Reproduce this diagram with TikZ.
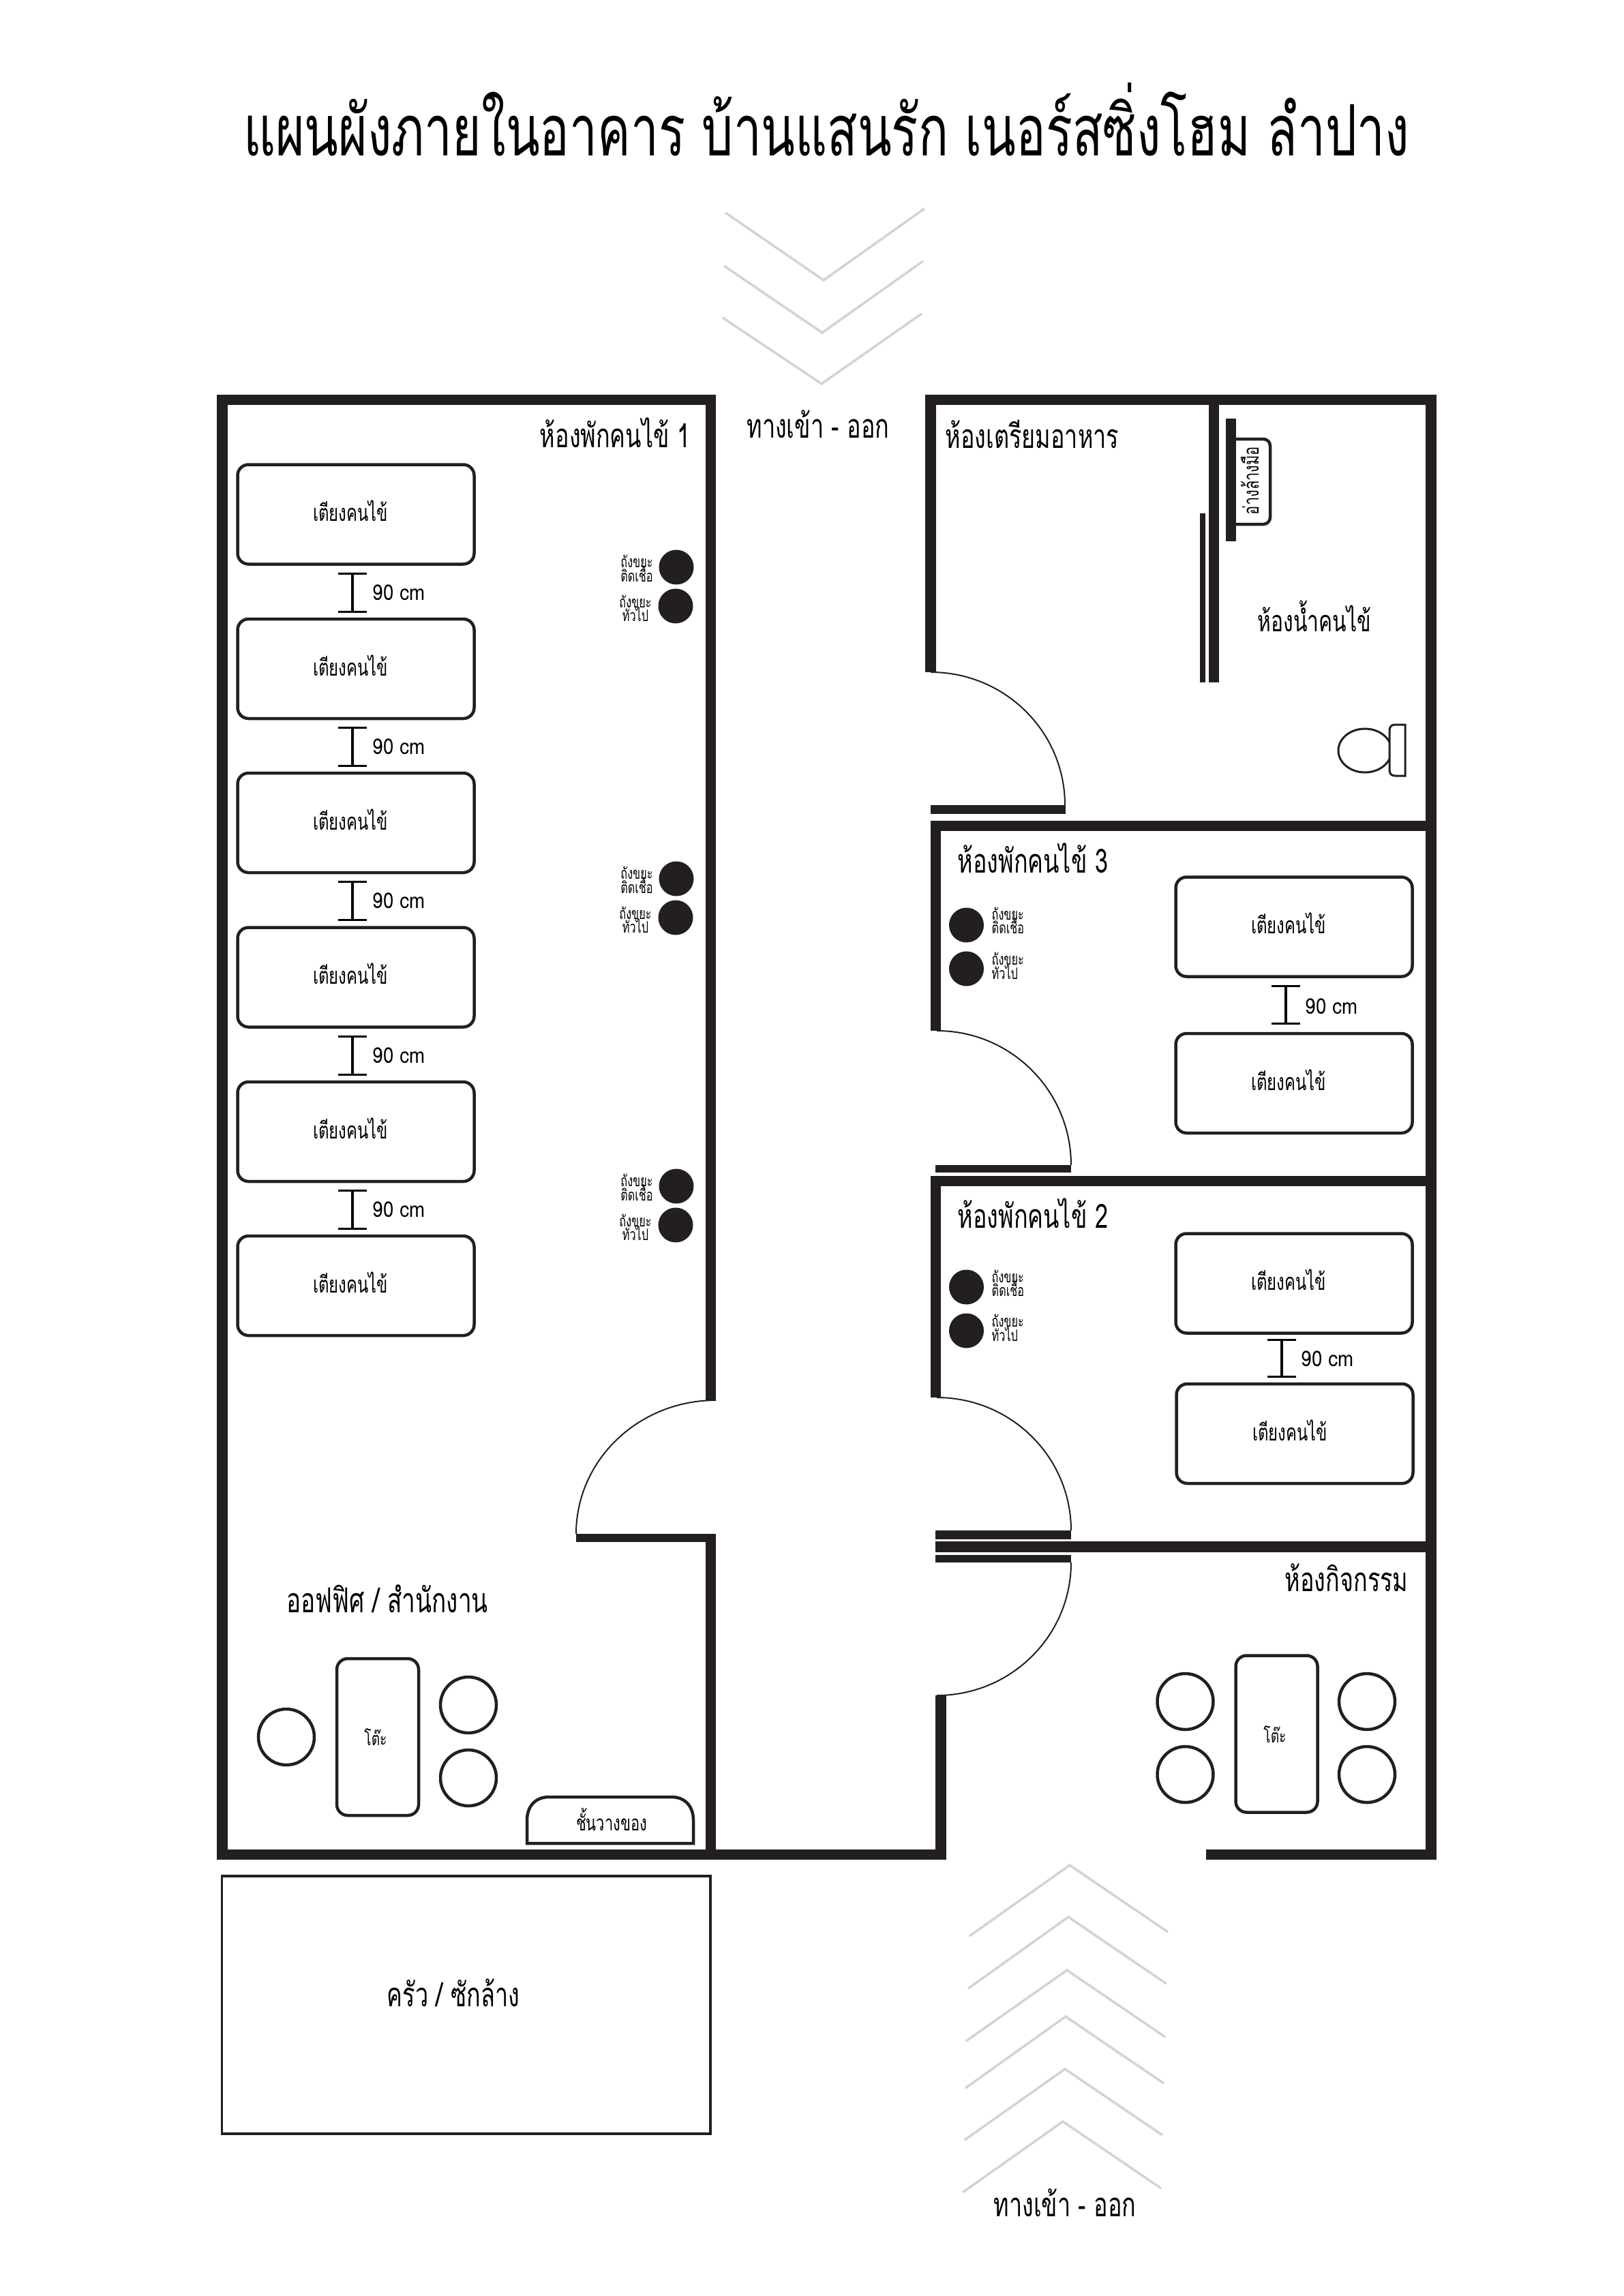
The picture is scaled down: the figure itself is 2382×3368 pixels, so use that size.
\documentclass[tikz,border=0pt]{standalone}
\usepackage{fontspec}
\setmainfont[Script=Thai,FakeStretch=0.7]{Loma}
\newfontfamily\dimfont[Script=Thai,FakeStretch=0.87]{Loma}
\usetikzlibrary{arrows.meta}
\definecolor{wallblack}{HTML}{231F20}
\definecolor{arrowgrey}{HTML}{D1D3D4}
\tikzset{
  wall/.style={fill=wallblack},
  thinline/.style={draw=wallblack,line width=0.45mm},
  doorarc/.style={draw=wallblack,line width=0.2mm},
  chevron/.style={draw=arrowgrey,line width=0.35mm},
  dimbar/.style={line width=0.4mm,{Bar[width=4.2mm,line width=0.28mm]}-{Bar[width=4.2mm,line width=0.28mm]}},
  bed/.style={thinline,rounded corners=1.6mm,minimum width=34.7mm,minimum height=14.6mm},
  desk/.style={thinline,rounded corners=1.6mm,minimum width=12mm,minimum height=23mm},
  chair/.style={thinline,circle,minimum size=8.2mm},
  bin/.style={fill=wallblack,circle,minimum size=5.1mm},
  titletext/.style={anchor=base,inner sep=0pt,font=\fontsize{29.6}{32}\selectfont},
  roomtext/.style={anchor=base,inner sep=0pt,font=\fontsize{13.9}{15}\selectfont},
  bedtext/.style={anchor=base,inner sep=0pt,font=\fontsize{9.7}{11}\selectfont},
  dimtext/.style={anchor=base,inner sep=0pt,font=\dimfont\fontsize{9}{11}\selectfont},
  desktext/.style={anchor=base,inner sep=0pt,font=\fontsize{7.8}{9}\selectfont},
  bintext/.style={anchor=base,inner sep=0pt,font=\fontsize{6.6}{7}\selectfont},
}
\begin{document}
\begin{tikzpicture}[x=0.1mm,y=-0.1mm]
\useasboundingbox (0,0) rectangle (2382,3368);
\node[titletext] (title) at (1212,228) {แผนผังภายในอาคาร บ้านแสนรัก เนอร์สซิ่งโฮม ลำปาง};

\foreach \a/\b/\c/\d/\e/\f in {1064/312/1208/411/1356/306,1062/390/1206/488/1354/383,1060/466/1205/563/1352/460,
  1422/2840/1569/2736/1713/2834,1420/2917/1567/2812/1711/2910,1417/2994/1565/2890/1709/2988,
  1416/3063/1563/2958/1707/3056,1415/3139/1562/3035/1705/3132,1412/3216/1559/3112/1703/3210}
  \draw[chevron] (\a,\b) -- (\c,\d) -- (\e,\f);

\fill[wall] (318,579) rectangle (1050,594);
\fill[wall] (318,579) rectangle (334,2728);
\fill[wall] (1035,579) rectangle (1050,2054);
\fill[wall] (1035,2250) rectangle (1050,2728);
\fill[wall] (845,2250) rectangle (1050,2262);
\fill[wall] (318,2713) rectangle (1388,2728);
\fill[wall] (1372,2487) rectangle (1388,2728);
\fill[wall] (1769,2713) rectangle (2107,2728);
\fill[wall] (1357,579) rectangle (2107,594);
\fill[wall] (2091,579) rectangle (2107,2728);
\fill[wall] (1357,579) rectangle (1373,986);
\fill[wall] (1365,1181) rectangle (1563,1194);
\fill[wall] (1773,594) rectangle (1788,1001);
\fill[wall] (1760,753) rectangle (1768,1001);
\fill[wall] (1798,614) rectangle (1813,794);
\fill[wall] (1365,1204) rectangle (2107,1219);
\fill[wall] (1365,1204) rectangle (1380,1512);
\fill[wall] (1372,1709) rectangle (1571,1720);
\fill[wall] (1365,1725) rectangle (2107,1740);
\fill[wall] (1365,1725) rectangle (1380,2050);
\fill[wall] (1372,2245) rectangle (1571,2258);
\fill[wall] (1372,2261) rectangle (2107,2277);
\fill[wall] (1372,2281) rectangle (1571,2292);

\draw[doorarc] (1365,986) arc[start angle=90,end angle=0,x radius=19.7mm,y radius=19.5mm];
\draw[doorarc] (1374,1512) arc[start angle=90,end angle=0,x radius=19.7mm,y radius=19.7mm];
\draw[doorarc] (1374,2050) arc[start angle=90,end angle=0,x radius=19.7mm,y radius=19.5mm];
\draw[doorarc] (1571,2292) arc[start angle=0,end angle=-90,x radius=19.7mm,y radius=19.5mm];
\draw[doorarc] (1050,2054) arc[start angle=90,end angle=180,x radius=20.5mm,y radius=19.6mm];

\foreach \n/\y in {1/754.5,2/981,3/1207,4/1433.5,5/1660,6/1886}
  \node[bed] (bed\n) at (522,\y) {};
\foreach \n/\y in {1/764.5,2/991,3/1217,4/1443.5,5/1670,6/1896}
  \node[bedtext] (bedlabel\n) at (514,\y) {เตียงคนไข้};
\foreach \n/\t/\b in {1/840/899,2/1066/1125,3/1292/1351,4/1519/1578,5/1745/1804}{
  \coordinate (dimtop\n) at (517,\t);
  \coordinate (dimbot\n) at (517,\b);
  \draw[dimbar] (dimtop\n) -- (dimbot\n);
  \node[dimtext] (dimlabel\n) at (585,\b-19) {90 cm};
}
\node[roomtext,anchor=base east] (roomone) at (1013,656) {ห้องพักคนไข้ 1};
\foreach \n/\x/\y in {1/992/832,2/991/889,3/992/1289,4/991/1346,5/992/1740,6/991/1797}
  \node[bin] (bin\n) at (\x,\y) {};
\foreach \n/\y in {1/832,3/1289,5/1740}{
  \node[bintext] (bintop\n) at (934,\y) {ถังขยะ};
  \node[bintext] (binbot\n) at (934,\y+21) {ติดเชื้อ};
}
\foreach \n/\y in {2/889,4/1346,6/1797}{
  \node[bintext] (bintop\n) at (932,\y+2) {ถังขยะ};
  \node[bintext] (binbot\n) at (932,\y+22) {ทั่วไป};
}

\node[roomtext,font=\fontsize{14.3}{15}\selectfont] (office) at (568,2365) {ออฟฟิศ / สำนักงาน};
\node[desk] (officedesk) at (554,2548) {};
\node[desktext] (officedesklabel) at (551,2560) {โต๊ะ};
\node[chair] (officechairl) at (420,2548) {};
\node[chair] (officechaira) at (687,2501) {};
\node[chair] (officechairb) at (687,2608) {};
\draw[thinline] (773,2704) -- (773,2670) .. controls (773,2650) and (785,2636) .. (805,2636) -- (985,2636) .. controls (1005,2636) and (1017,2650) .. (1017,2670) -- (1017,2704) -- cycle;
\node[bedtext,font=\fontsize{8.9}{10}\selectfont] (shelf) at (897,2685) {ชั้นวางของ};

\node[roomtext] (entrytop) at (1200,642) {ทางเข้า - ออก};
\node[roomtext] (entrybot) at (1562,3251) {ทางเข้า - ออก};
\draw[draw=wallblack,line width=0.37mm] (325.5,2752) rectangle (1042,3130);
\node[roomtext] (kitchen) at (665,2943) {ครัว / ซักล้าง};

\node[roomtext,anchor=base west] (foodroom) at (1386,657) {ห้องเตรียมอาหาร};
\draw[thinline,rounded corners=1mm] (1813,644) -- (1863,644) -- (1863,769) -- (1813,769);
\node[bedtext,rotate=90,font=\fontsize{8.9}{10}\selectfont] (sink) at (1846,705) {อ่างล้างมือ};
\node[roomtext,font=\fontsize{12.2}{14}\selectfont] (bathroom) at (1928,926) {ห้องน้ำคนไข้};
\draw[draw=wallblack,line width=0.3mm] (2002,1101) ellipse[x radius=3.9mm,y radius=3.2mm];
\draw[draw=wallblack,line width=0.3mm,fill=white] (2061,1063) -- (2046,1063) .. controls (2040,1063) and (2038,1067) .. (2038,1072) -- (2038,1129) .. controls (2038,1134) and (2040,1138) .. (2046,1138) -- (2061,1138) -- cycle;

\node[roomtext,anchor=base west] (roomthree) at (1404,1280) {ห้องพักคนไข้ 3};
\node[bed] (bedthreea) at (1898,1359.5) {};
\node[bed] (bedthreeb) at (1898,1589) {};
\node[bedtext] (bedthreealabel) at (1890,1369) {เตียงคนไข้};
\node[bedtext] (bedthreeblabel) at (1890,1599) {เตียงคนไข้};
\coordinate (dimthreetop) at (1886,1445);
\coordinate (dimthreebot) at (1886,1503);
\draw[dimbar] (dimthreetop) -- (dimthreebot);
\node[dimtext] (dimthree) at (1953,1487) {90 cm};

\node[roomtext,anchor=base west] (roomtwo) at (1404,1801) {ห้องพักคนไข้ 2};
\node[bed] (bedtwoa) at (1898,1882.5) {};
\node[bed] (bedtwob) at (1899,2103) {};
\node[bedtext] (bedtwoalabel) at (1890,1892) {เตียงคนไข้};
\node[bedtext] (bedtwoblabel) at (1892,2113) {เตียงคนไข้};
\coordinate (dimtwotop) at (1880,1964);
\coordinate (dimtwobot) at (1880,2021);
\draw[dimbar] (dimtwotop) -- (dimtwobot);
\node[dimtext] (dimtwo) at (1947,2004) {90 cm};

\foreach \n/\y in {7/1357,8/1421,9/1888,10/1952}
  \node[bin] (bin\n) at (1417.5,\y) {};
\foreach \n/\a/\b/\w in {7/1349/1369/ติดเชื้อ,8/1415/1436/ทั่วไป,9/1881/1901/ติดเชื้อ,10/1946/1967/ทั่วไป}{
  \node[bintext,anchor=base west] (bintop\n) at (1454,\a) {ถังขยะ};
  \node[bintext,anchor=base west] (binbot\n) at (1454,\b) {\w};
}

\node[roomtext,anchor=base east] (activity) at (2066,2334) {ห้องกิจกรรม};
\node[desk] (activitydesk) at (1872.5,2543.5) {};
\node[desktext] (activitydesklabel) at (1870,2556) {โต๊ะ};
\node[chair] (chairone) at (1738.5,2496) {};
\node[chair] (chairtwo) at (1738.5,2603) {};
\node[chair] (chairthree) at (2005,2496) {};
\node[chair] (chairfour) at (2005,2603) {};
\end{tikzpicture}
\end{document}
